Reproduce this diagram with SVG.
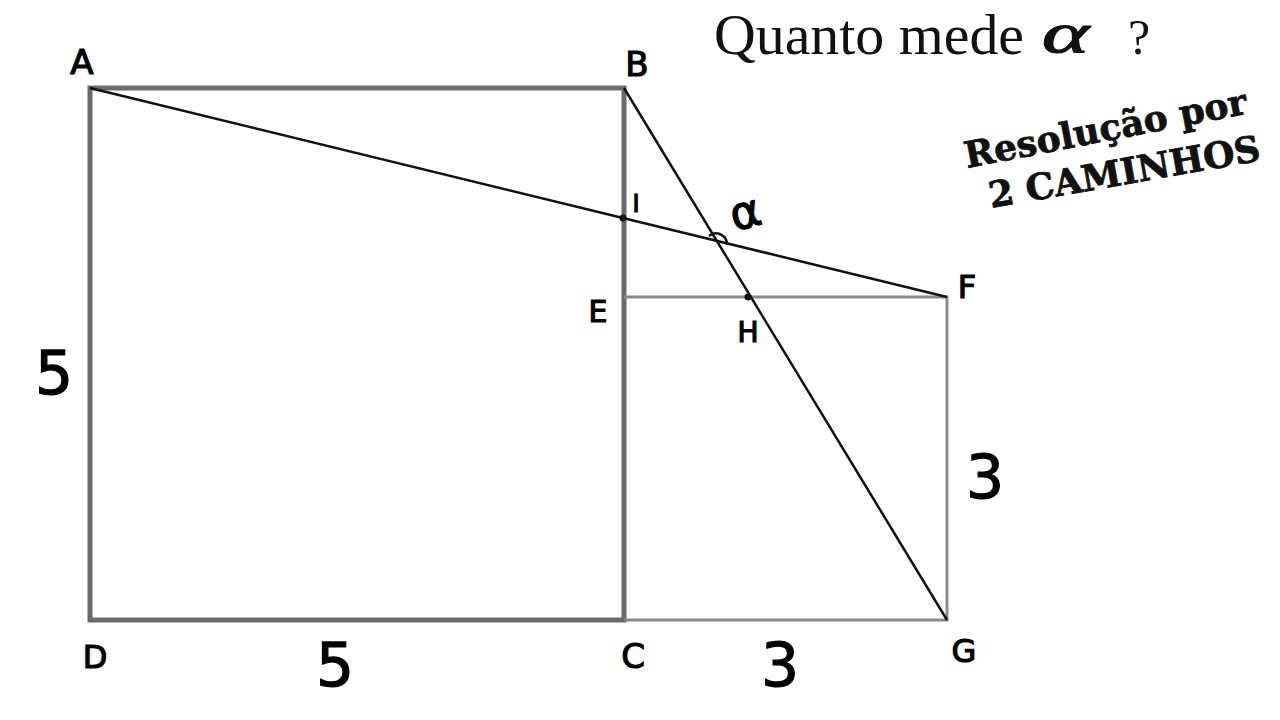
<svg xmlns="http://www.w3.org/2000/svg" width="1280" height="720" viewBox="0 0 1280 720">
<style>
.big{fill:none;stroke:#6a6a6a;stroke-width:5}
.small{fill:none;stroke:#8a8a8a;stroke-width:3}
.ln{fill:none;stroke:#111;stroke-width:2.5}
.lab{font-family:"DejaVu Sans","Liberation Sans",sans-serif;fill:#000;stroke:#000;stroke-width:1.2}
.title{font-family:"Liberation Serif","DejaVu Serif",serif;fill:#111}
.sub{font-family:"DejaVu Serif","Liberation Serif",serif;font-weight:bold;fill:#111;stroke:#111;stroke-width:0.8}
</style>
<rect width="1280" height="720" fill="#fff"/>
<g id="shapes">
<rect class="big" x="90" y="88" width="534" height="532"/>
<polyline class="small" points="624,297 947,297 947,620 624,620"/>
<line class="ln" x1="90" y1="88" x2="947" y2="297"/>
<line class="ln" x1="624" y1="88" x2="947" y2="620"/>
<path class="ln" d="M709,236 A11,11 0 0 1 727,245"/>
<circle cx="623" cy="218" r="3.5" fill="#111"/>
<circle cx="748" cy="297" r="3.5" fill="#111"/>
</g>
<g id="labels">
<text class="lab" x="82" y="74" font-size="34" text-anchor="middle">A</text>
<text class="lab" x="637" y="76" font-size="34" text-anchor="middle">B</text>
<text class="lab" x="636" y="212" font-size="24" text-anchor="middle">I</text>
<text class="lab" x="745" y="228" font-size="46" text-anchor="middle" transform="rotate(-15 745 212)">α</text>
<text class="lab" x="598" y="322" font-size="30" text-anchor="middle">E</text>
<text class="lab" x="967" y="298" font-size="32" text-anchor="middle">F</text>
<text class="lab" x="748" y="342" font-size="28" text-anchor="middle">H</text>
<text class="lab" x="54" y="394" font-size="60" text-anchor="middle">5</text>
<text class="lab" x="335" y="686" font-size="60" text-anchor="middle">5</text>
<text class="lab" x="985" y="498" font-size="60" text-anchor="middle">3</text>
<text class="lab" x="780" y="686" font-size="60" text-anchor="middle">3</text>
<text class="lab" x="95" y="668" font-size="32" text-anchor="middle">D</text>
<text class="lab" x="633" y="668" font-size="34" text-anchor="middle">C</text>
<text class="lab" x="964" y="662" font-size="32" text-anchor="middle">G</text>
</g>
<g id="title">
<text class="title" x="714" y="54" font-size="56" textLength="310" lengthAdjust="spacingAndGlyphs">Quanto mede</text>
<text class="title" transform="translate(1042 52) scale(1.6 1)" x="0" y="0" font-size="56" font-style="italic" stroke="#111" stroke-width="1.2">α</text>
<text class="title" x="1128" y="54" font-size="50">?</text>
<text class="sub" x="967" y="168" font-size="36" transform="rotate(-11 967 168)">Resolução por</text>
<text class="sub" x="991" y="208" font-size="36" transform="rotate(-10 991 208)">2 CAMINHOS</text>
</g>
</svg>
